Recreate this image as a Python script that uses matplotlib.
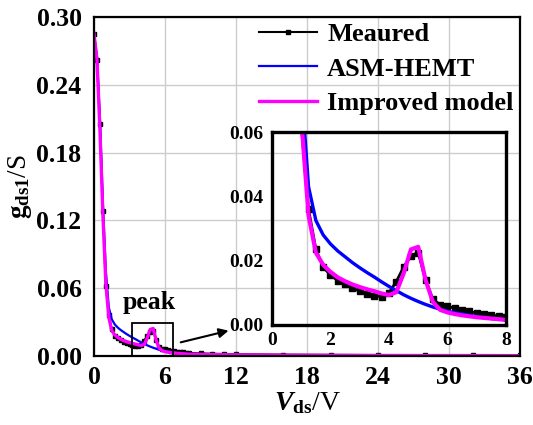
import numpy as np
import matplotlib
matplotlib.use("Agg")
import matplotlib.pyplot as plt
from matplotlib.patches import Rectangle

plt.rcParams['font.family'] = 'Liberation Serif'
plt.rcParams['font.weight'] = 'bold'
plt.rcParams['mathtext.fontset'] = 'custom'
plt.rcParams['mathtext.rm'] = 'Liberation Serif:bold'
plt.rcParams['mathtext.it'] = 'Liberation Serif:italic:bold'
plt.rcParams['mathtext.bf'] = 'Liberation Serif:bold'

# Vds sweep: 0.25 V steps up to 8 V, coarser beyond
vds_low = np.arange(0, 8.01, 0.25)
vds_tail = np.array([9, 10, 11, 12, 16, 20, 24, 28, 32, 36])
vds = np.concatenate([vds_low, vds_tail])

meas_low = [0.285, 0.262, 0.205, 0.128, 0.062, 0.036, 0.0235, 0.018, 0.0155,
            0.0138, 0.0127, 0.0115, 0.0105, 0.0096, 0.0091, 0.0088, 0.0100,
            0.0135, 0.0180, 0.0215, 0.0225, 0.0140, 0.0080, 0.0063, 0.0058,
            0.0052, 0.0047, 0.0042, 0.0037, 0.0034, 0.0031, 0.0028, 0.0026]
asm_low = [0.285, 0.265, 0.210, 0.135, 0.075, 0.043, 0.0325, 0.028, 0.0252,
           0.0230, 0.0212, 0.0194, 0.0178, 0.0163, 0.0149, 0.0134, 0.0120,
           0.0107, 0.0094, 0.0083, 0.0073, 0.0064, 0.0056, 0.0049, 0.0043,
           0.0038, 0.0034, 0.0030, 0.0026, 0.0023, 0.0020, 0.0018, 0.0016]
imp_low = [0.285, 0.262, 0.200, 0.125, 0.064, 0.034, 0.0225, 0.0187, 0.0165,
           0.0148, 0.0136, 0.0126, 0.0118, 0.0111, 0.0105, 0.0098, 0.0093,
           0.0102, 0.0160, 0.0235, 0.0243, 0.0140, 0.0072, 0.0047, 0.0039,
           0.0034, 0.0030, 0.0027, 0.0024, 0.0022, 0.0020, 0.0018, 0.0016]

meas_tail = [0.0023, 0.0020, 0.0018, 0.0016, 0.0012, 0.0010, 0.0008, 0.0007,
             0.0006, 0.0005]
asm_tail = [0.0013, 0.0011, 0.0010, 0.0009, 0.0006, 0.0005, 0.0004, 0.0003,
            0.0003, 0.0002]
imp_tail = [0.0014, 0.0012, 0.0011, 0.0010, 0.0007, 0.0006, 0.0005, 0.0004,
            0.0004, 0.0003]

measured = np.array(meas_low + meas_tail)
asm_hemt = np.array(asm_low + asm_tail)
improved = np.array(imp_low + imp_tail)

main_xticks = [0, 6, 12, 18, 24, 30, 36]
main_yticks = [0.00, 0.06, 0.12, 0.18, 0.24, 0.30]
inset_xticks = [0, 2, 4, 6, 8]
inset_yticks = [0.00, 0.02, 0.04, 0.06]

fig = plt.figure(figsize=(5.33, 4.25), dpi=100)
ax = fig.add_axes([0.1764, 0.1624, 0.7992, 0.7976])

ax.plot(vds, measured, color='black', lw=1.5, marker='s', ms=3.5,
        label='Meaured')
ax.plot(vds, asm_hemt, color='#0000ff', lw=1.6, label='ASM-HEMT')
ax.plot(vds, improved, color='#ff00ff', lw=2.4, label='Improved model')

ax.set_xlim(0, 36)
ax.set_ylim(0, 0.30)
ax.set_xticks(main_xticks)
ax.set_yticks(main_yticks)
ax.set_yticklabels(['%.2f' % v for v in main_yticks])
ax.tick_params(length=0, labelsize=18.5)
ax.tick_params(axis='x', pad=7)
ax.tick_params(axis='y', pad=9)
ax.grid(True, color='#cccccc', lw=1.0)
ax.set_axisbelow(True)
for s in ax.spines.values():
    s.set_linewidth(1.6)

ax.set_xlabel(r'$V_{\mathrm{ds}}$/V', fontsize=20, labelpad=1)
ax.set_ylabel(r'$\mathrm{g}_{\mathrm{ds1}}$/S', fontsize=19.5, labelpad=2)

leg = ax.legend(loc='upper right', bbox_to_anchor=(1.022, 1.03),
                frameon=False, fontsize=19, handlelength=2.2,
                handletextpad=0.4, labelspacing=0.42, numpoints=1,
                borderaxespad=0.2)

# box around the peak and arrow pointing to the zoomed view
ax.add_patch(Rectangle((3.2, 0.0), 3.5, 0.029, fill=False, ec='black', lw=1.3,
                       zorder=5))
ax.annotate('', xy=(11.6, 0.023), xytext=(7.1, 0.0115),
            arrowprops=dict(arrowstyle='-|>', color='black', lw=1.5,
                            mutation_scale=14))
ax.text(4.7, 0.047, 'peak', fontsize=18.5, ha='center', va='center')

# zoomed inset
ins = fig.add_axes([0.5103, 0.2353, 0.4390, 0.4541])
ins.patch.set_alpha(0)
ins.plot(vds, measured, color='black', lw=2.0, marker='s', ms=4.5)
ins.plot(vds, asm_hemt, color='#0000ff', lw=2.4)
ins.plot(vds, improved, color='#ff00ff', lw=3.0)
ins.set_xlim(0, 8)
ins.set_ylim(0, 0.06)
ins.set_xticks(inset_xticks)
ins.set_yticks(inset_yticks)
ins.set_yticklabels(['%.2f' % v for v in inset_yticks])
ins.tick_params(length=0, labelsize=14)
ins.tick_params(axis='x', pad=5)
ins.tick_params(axis='y', pad=6)
for s in ins.spines.values():
    s.set_linewidth(2.4)

fig.savefig('out.png', dpi=100)
